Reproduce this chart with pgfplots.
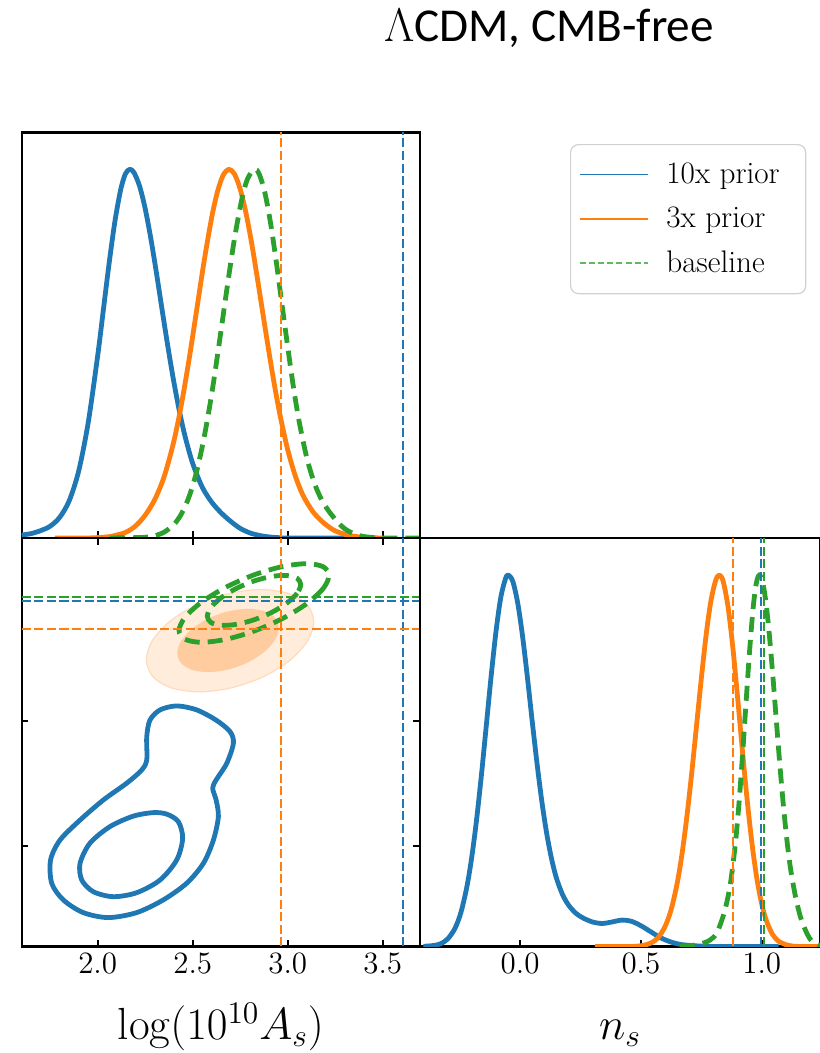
\RequirePackage{fix-cm}
\documentclass[border=0pt]{standalone}
\usepackage{fontspec}
\usepackage{pgfplots}
\pgfplotsset{compat=1.18}
\newfontfamily\carlito{Carlito}
\definecolor{C0}{HTML}{1F77B4}
\definecolor{C1}{HTML}{FF7F0E}
\definecolor{C2}{HTML}{2CA02C}
\pgfplotsset{
  every axis/.append style={
    scale only axis,
    axis line style={line width=1.15pt, black},
    every tick/.style={line width=0.9pt, black},
    major tick length=3.3pt,
    tick align=inside,
    tick label style={font=\fontsize{15.5}{18}\selectfont},
    xticklabel style={/pgf/number format/.cd, fixed, fixed zerofill, precision=1},
    every axis x label/.style={at={(axis description cs:0.5,0)}, anchor=base, yshift=-46.5pt,
      font=\fontsize{22.5}{27}\selectfont},
  },
  legend image code/.code={\draw[#1] (0pt,0pt) -- (34pt,0pt);},
  curve/.style={line width=2.4pt, line join=round},
  gdash/.style={line width=2.4pt, dash pattern=on 7.5pt off 4pt},
  refl/.style={line width=0.8pt, dash pattern=on 4.5pt off 1.8pt},
}
\begin{document}
\begin{tikzpicture}
\useasboundingbox (0,0) rectangle (409.5pt,526.5pt);
\node[anchor=base, font=\carlito\fontsize{23.6}{27}\selectfont] at (274.5pt,505.5pt) {$\Lambda$CDM, CMB-free};

% ---------- top-left: 1D log(10^10 A_s)
\begin{axis}[at={(10.85pt,257.5pt)}, anchor=south west,
  width=199.15pt, height=202.75pt,
  xmin=1.6, xmax=3.696, ymin=0, ymax=1.1,
  xtick={2,2.5,3,3.5}, xticklabels={}, xtick pos=bottom, ytick=\empty,
  legend style={at={(1.3766,0.9716)}, anchor=north west, draw=black!18, line width=0.6pt,
    rounded corners=4pt, inner xsep=4pt, inner ysep=7pt, row sep=6.3pt,
    font=\fontsize{15.6}{18}\selectfont, /tikz/every odd column/.append style={column sep=7pt}},
  legend cell align=left]
\addlegendimage{C0, line width=0.9pt}
\addlegendentry{10x prior\rule{7pt}{0pt}}
\addlegendimage{C1, line width=0.9pt}
\addlegendentry{3x prior}
\addlegendimage{C2!75, line width=0.9pt, dash pattern=on 3pt off 1.6pt}
\addlegendentry{baseline}
\addplot[C0, curve, smooth, forget plot] coordinates {
(1.60,0.008) (1.65,0.012) (1.70,0.020) (1.75,0.032) (1.80,0.056) (1.85,0.101) (1.90,0.182) (1.95,0.313) (2.00,0.495) (2.03,0.620) (2.06,0.745) (2.09,0.857) (2.12,0.943) (2.145,0.987) (2.168,1.0) (2.19,0.992) (2.22,0.955) (2.25,0.893) (2.28,0.811) (2.31,0.716) (2.34,0.615) (2.37,0.517) (2.40,0.425) (2.43,0.344) (2.46,0.275) (2.50,0.202) (2.55,0.138) (2.60,0.097) (2.65,0.068) (2.70,0.045) (2.75,0.026) (2.80,0.014) (2.85,0.007) (2.90,0.003) (2.95,0.001) (3.0,0) (3.3,0)};
\addplot[C1, curve, smooth, forget plot] coordinates {
(1.774,0) (1.95,0) (2.05,0.003) (2.10,0.008) (2.15,0.016) (2.20,0.033) (2.25,0.062) (2.30,0.104) (2.35,0.167) (2.40,0.261) (2.44,0.361) (2.48,0.482) (2.52,0.616) (2.56,0.751) (2.60,0.870) (2.63,0.939) (2.66,0.984) (2.691,1.0) (2.72,0.987) (2.75,0.946) (2.78,0.882) (2.81,0.800) (2.84,0.705) (2.87,0.606) (2.90,0.508) (2.93,0.415) (2.96,0.332) (3.00,0.239) (3.04,0.168) (3.08,0.116) (3.13,0.073) (3.18,0.045) (3.24,0.022) (3.30,0.010) (3.36,0.004) (3.42,0.001) (3.5,0)};
\addplot[C2, gdash, smooth, forget plot] coordinates {
(2.065,0) (2.20,0.001) (2.25,0.002) (2.30,0.006) (2.35,0.016) (2.40,0.036) (2.44,0.065) (2.48,0.111) (2.52,0.179) (2.56,0.273) (2.60,0.391) (2.64,0.530) (2.68,0.676) (2.72,0.813) (2.76,0.923) (2.79,0.976) (2.826,1.0) (2.85,0.987) (2.88,0.936) (2.91,0.853) (2.94,0.748) (2.97,0.632) (3.00,0.518) (3.03,0.409) (3.06,0.316) (3.10,0.218) (3.14,0.149) (3.18,0.102) (3.22,0.070) (3.26,0.045) (3.30,0.025) (3.35,0.011) (3.40,0.004) (3.46,0.001) (3.52,0) (3.69,0)};
\addplot[C1, refl, forget plot] coordinates {(2.963,0) (2.963,1.1)};
\addplot[C0, refl, forget plot] coordinates {(3.607,0) (3.607,1.1)};
\end{axis}

% ---------- bottom-left: 2D
\begin{axis}[at={(10.85pt,53.25pt)}, anchor=south west,
  width=199.15pt, height=204.25pt,
  xmin=1.6, xmax=3.696, ymin=-0.4053, ymax=1.2372,
  xtick={2,2.5,3,3.5}, ytick={0,0.5,1}, yticklabels={},
  xlabel={$\log(10^{10}A_s)$}]
\addplot[fill=C1!15, draw=C1!28, line width=0.6pt, smooth cycle] coordinates {
(3.1368,0.9007) (3.1033,0.8218) (3.0078,0.7432) (2.8649,0.6770) (2.6963,0.6333) (2.5277,0.6186) (2.3848,0.6352) (2.2893,0.6806) (2.2558,0.7479) (2.2893,0.8268) (2.3848,0.9054) (2.5277,0.9716) (2.6963,1.0153) (2.8649,1.0300) (3.0078,1.0134) (3.1033,0.9680)};
\addplot[fill=C1!40, draw=none, smooth cycle] coordinates {
(2.9532,0.8754) (2.9329,0.8268) (2.8749,0.7780) (2.7881,0.7362) (2.6858,0.7081) (2.5835,0.6978) (2.4967,0.7068) (2.4387,0.7338) (2.4184,0.7748) (2.4387,0.8234) (2.4967,0.8722) (2.5835,0.9140) (2.6858,0.9421) (2.7881,0.9524) (2.8749,0.9434) (2.9329,0.9164)};
\addplot[C2, gdash, smooth cycle] coordinates {
(3.2173,1.0865) (3.1873,1.0349) (3.1017,0.9742) (2.9737,0.9138) (2.8226,0.8629) (2.6715,0.8292) (2.5435,0.8178) (2.4579,0.8305) (2.4279,0.8653) (2.4579,0.9169) (2.5435,0.9776) (2.6715,1.0380) (2.8226,1.0889) (2.9737,1.1226) (3.1017,1.1340) (3.1873,1.1213)};
\addplot[C2, gdash, smooth cycle] coordinates {
(3.0684,1.0498) (3.0497,1.0151) (2.9964,0.9760) (2.9167,0.9385) (2.8226,0.9083) (2.7285,0.8899) (2.6488,0.8862) (2.5955,0.8977) (2.5768,0.9228) (2.5955,0.9575) (2.6488,0.9966) (2.7285,1.0341) (2.8226,1.0643) (2.9167,1.0827) (2.9964,1.0864) (3.0497,1.0749)};
\addplot[C0, curve, smooth cycle] coordinates {
(2.416,0.562) (2.328,0.546) (2.275,0.505) (2.258,0.438) (2.258,0.345) (2.231,0.304) (2.152,0.251) (2.030,0.184) (1.907,0.103) (1.802,0.023) (1.752,-0.057) (1.758,-0.151) (1.819,-0.218) (1.924,-0.269) (2.056,-0.289) (2.205,-0.269) (2.345,-0.218) (2.468,-0.151) (2.556,-0.071) (2.609,0.023) (2.635,0.117) (2.623,0.184) (2.605,0.231) (2.623,0.264) (2.679,0.331) (2.714,0.412) (2.696,0.459) (2.623,0.505) (2.521,0.546)};
\addplot[C0, curve, smooth cycle] coordinates {
(2.293,0.133) (2.188,0.119) (2.065,0.077) (1.959,0.010) (1.907,-0.071) (1.916,-0.138) (1.977,-0.185) (2.082,-0.205) (2.205,-0.189) (2.328,-0.138) (2.416,-0.057) (2.447,0.030) (2.424,0.097) (2.363,0.127)};
\addplot[C1, refl] coordinates {(2.963,-0.4053) (2.963,1.2372)};
\addplot[C0, refl] coordinates {(3.607,-0.4053) (3.607,1.2372)};
\addplot[C2, refl] coordinates {(1.6,1.001) (3.696,1.001)};
\addplot[C0, refl] coordinates {(1.6,0.985) (3.696,0.985)};
\addplot[C1, refl] coordinates {(1.6,0.871) (3.696,0.871)};
\end{axis}

% ---------- bottom-right: 1D n_s
\begin{axis}[at={(210pt,53.25pt)}, anchor=south west,
  width=200pt, height=204.25pt,
  xmin=-0.414, xmax=1.241, ymin=0, ymax=1.1,
  xtick={0,0.5,1}, xtick pos=bottom, ytick=\empty,
  xlabel={$n_s$}]
\addplot[C0, curve, smooth] coordinates {
(-0.40,0.0005) (-0.36,0.0025) (-0.33,0.007) (-0.30,0.020) (-0.27,0.048) (-0.245,0.091) (-0.22,0.161) (-0.20,0.240) (-0.18,0.341) (-0.16,0.461) (-0.14,0.593) (-0.12,0.726) (-0.10,0.846) (-0.08,0.939) (-0.06,0.991) (-0.048,1.0) (-0.03,0.983) (-0.01,0.926) (0.01,0.837) (0.03,0.727) (0.05,0.608) (0.07,0.494) (0.09,0.391) (0.11,0.305) (0.13,0.237) (0.15,0.185) (0.175,0.141) (0.20,0.112) (0.23,0.090) (0.26,0.077) (0.30,0.066) (0.34,0.062) (0.38,0.066) (0.42,0.071) (0.46,0.068) (0.50,0.056) (0.54,0.040) (0.58,0.024) (0.62,0.013) (0.66,0.006) (0.70,0.003) (0.75,0.001) (0.80,0) (1.07,0)};
\addplot[C1, curve, smooth] coordinates {
(0.31,0) (0.45,0) (0.50,0.002) (0.54,0.009) (0.57,0.023) (0.60,0.054) (0.625,0.099) (0.65,0.170) (0.67,0.249) (0.69,0.349) (0.71,0.466) (0.73,0.594) (0.75,0.722) (0.77,0.840) (0.79,0.932) (0.81,0.987) (0.825,1.0) (0.84,0.984) (0.86,0.917) (0.88,0.807) (0.90,0.671) (0.92,0.527) (0.94,0.392) (0.96,0.275) (0.98,0.182) (1.00,0.114) (1.02,0.068) (1.045,0.032) (1.07,0.014) (1.10,0.005) (1.13,0.001) (1.17,0) (1.25,0)};
\addplot[C2, gdash, smooth] coordinates {
(0.661,0) (0.70,0.002) (0.74,0.006) (0.78,0.015) (0.81,0.032) (0.83,0.062) (0.85,0.104) (0.87,0.168) (0.89,0.272) (0.905,0.379) (0.92,0.511) (0.935,0.657) (0.95,0.799) (0.965,0.916) (0.978,0.980) (0.990,1.0) (1.003,0.983) (1.016,0.933) (1.03,0.849) (1.045,0.736) (1.06,0.611) (1.075,0.488) (1.09,0.376) (1.105,0.281) (1.12,0.206) (1.14,0.133) (1.16,0.080) (1.18,0.045) (1.20,0.020) (1.22,0.008) (1.241,0.003)};
\addplot[C1, refl] coordinates {(0.881,0) (0.881,1.1)};
\addplot[C0, refl] coordinates {(0.996,0) (0.996,1.1)};
\addplot[C2, refl] coordinates {(1.009,0) (1.009,1.1)};
\end{axis}
\end{tikzpicture}
\end{document}
